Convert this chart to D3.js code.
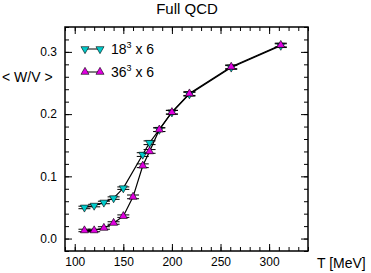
<!DOCTYPE html>
<html>
<head>
<meta charset="utf-8">
<script src="https://cdn.jsdelivr.net/npm/d3@7"></script>
<style>
  body { margin: 0; background: #fff; }
  svg { display: block; }
  text { font-family: "Liberation Sans", Arial, sans-serif; fill: #000; }
</style>
</head>
<body>
<svg id="chart" width="371" height="273"></svg>
<script>
// temperatures (MeV) and <W/V> for each lattice
var t18 = [110, 120, 130, 140, 150, 170, 177, 187, 200, 218, 261, 312];
var w18 = [0.050, 0.053, 0.058, 0.065, 0.081, 0.135, 0.154, 0.175, 0.203, 0.232, 0.275, 0.310];
var err18 = [0.002, 0.002, 0.002, 0.002, 0.002, 0.003, 0.003, 0.003, 0.003, 0.003, 0.003, 0.003];

var t36 = [110, 120, 130, 140, 150, 160, 170, 177, 187, 200, 218, 261, 312];
var w36 = [0.013, 0.013, 0.017, 0.025, 0.036, 0.067, 0.117, 0.140, 0.175, 0.203, 0.233, 0.276, 0.311];
var err36 = [0.002, 0.002, 0.002, 0.002, 0.002, 0.003, 0.003, 0.003, 0.003, 0.003, 0.003, 0.003, 0.003];

var xTicks = [100, 150, 200, 250, 300];
var yTicks = [0.0, 0.1, 0.2, 0.3];

var svg = d3.select('#chart');
var mLeft = 65, mRight = 308, mTop = 27, mBottom = 251;

var x = d3.scaleLinear().domain([90, 340]).range([mLeft, mRight]);
var y = d3.scaleLinear().domain([-0.02, 0.34]).range([mBottom, mTop]);

// title
svg.append('text')
  .attr('x', 187).attr('y', 14)
  .attr('text-anchor', 'middle')
  .style('font-size', '15px')
  .text('Full QCD');

// frame with inward ticks on all sides
var g = svg.append('g');
function tickAxis(axis, tr, minor) {
  var a = g.append('g').attr('transform', tr).call(axis);
  a.select('.domain').remove();
  a.selectAll('line').attr('stroke', '#000').attr('stroke-width', 1);
  if (minor) a.selectAll('text').remove();
  return a;
}
var xMinor = d3.range(90, 341, 10);
var yMinor = d3.range(-0.02, 0.341, 0.02);

tickAxis(d3.axisBottom(x).tickValues(xMinor).tickSize(-4).tickFormat(''), 'translate(0,' + mBottom + ')', true);
tickAxis(d3.axisTop(x).tickValues(xMinor).tickSize(-4).tickFormat(''), 'translate(0,' + mTop + ')', true);
tickAxis(d3.axisLeft(y).tickValues(yMinor).tickSize(-4).tickFormat(''), 'translate(' + mLeft + ',0)', true);
tickAxis(d3.axisRight(y).tickValues(yMinor).tickSize(-4).tickFormat(''), 'translate(' + mRight + ',0)', true);

var xb = tickAxis(d3.axisBottom(x).tickValues(xTicks).tickSize(-7).tickPadding(6), 'translate(0,' + mBottom + ')');
xb.selectAll('text').style('font-size', '12px').attr('font-family', null);
tickAxis(d3.axisTop(x).tickValues(xTicks).tickSize(-7).tickFormat(''), 'translate(0,' + mTop + ')', true);
var yl = tickAxis(d3.axisLeft(y).tickValues(yTicks).tickSize(-7).tickPadding(8).tickFormat(d3.format('.1f')), 'translate(' + mLeft + ',0)');
yl.selectAll('text').style('font-size', '12px').attr('font-family', null);
tickAxis(d3.axisRight(y).tickValues(yTicks).tickSize(-7).tickFormat(''), 'translate(' + mRight + ',0)', true);

g.append('rect')
  .attr('x', mLeft).attr('y', mTop)
  .attr('width', mRight - mLeft).attr('height', mBottom - mTop)
  .attr('fill', 'none').attr('stroke', '#000').attr('stroke-width', 1.5);

// axis titles
svg.append('text').attr('x', 317).attr('y', 268).style('font-size', '14px').text('T [MeV]');
svg.append('text').attr('x', 2).attr('y', 82).style('font-size', '14px').text('< W/V >');

// series
var line = d3.line().x(function(d) { return x(d[0]); }).y(function(d) { return y(d[1]); });
var tri = d3.symbol().type(d3.symbolTriangle).size(28);

function series(ts, ws, es, color, down) {
  var pts = ts.map(function(t, i) { return [t, ws[i], es[i]]; });
  var s = svg.append('g');
  s.append('path').datum(pts).attr('d', line)
    .attr('fill', 'none').attr('stroke', '#000').attr('stroke-width', 1.2);
  var p = s.selectAll('g.pt').data(pts).enter().append('g')
    .attr('transform', function(d) { return 'translate(' + x(d[0]) + ',' + y(d[1]) + ')'; });
  p.append('path')
    .attr('d', function(d) {
      var hi = y(d[1] + d[2]) - y(d[1]), lo = y(d[1] - d[2]) - y(d[1]);
      return 'M0,' + hi + 'V' + lo + 'M-6,' + hi + 'h12M-6,' + lo + 'h12';
    })
    .attr('stroke', '#000').attr('stroke-width', 1);
  p.append('path').attr('d', tri)
    .attr('transform', down ? 'rotate(180)' : null)
    .attr('fill', color).attr('stroke', '#000').attr('stroke-width', 0.6);
}
series(t18, w18, err18, '#00cccc', true);
series(t36, w36, err36, '#e000e0', false);

// legend
var legend = [
  { color: '#00cccc', down: true, y: 49, base: '18' },
  { color: '#e000e0', down: false, y: 72, base: '36' }
];
legend.forEach(function(l) {
  var lg = svg.append('g');
  lg.append('line').attr('x1', 85).attr('x2', 100).attr('y1', l.y).attr('y2', l.y)
    .attr('stroke', '#000').attr('stroke-width', 1);
  [85, 100].forEach(function(cx) {
    lg.append('path').attr('d', tri)
      .attr('transform', 'translate(' + cx + ',' + l.y + ')' + (l.down ? ' rotate(180)' : ''))
      .attr('fill', l.color).attr('stroke', '#000').attr('stroke-width', 0.6);
  });
  var tx = lg.append('text').attr('x', 111).attr('y', l.y + 5).style('font-size', '14px');
  tx.append('tspan').text(l.base);
  tx.append('tspan').attr('dy', -6).style('font-size', '9px').text('3');
  tx.append('tspan').attr('dy', 6).text(' x 6');
});
</script>
</body>
</html>
